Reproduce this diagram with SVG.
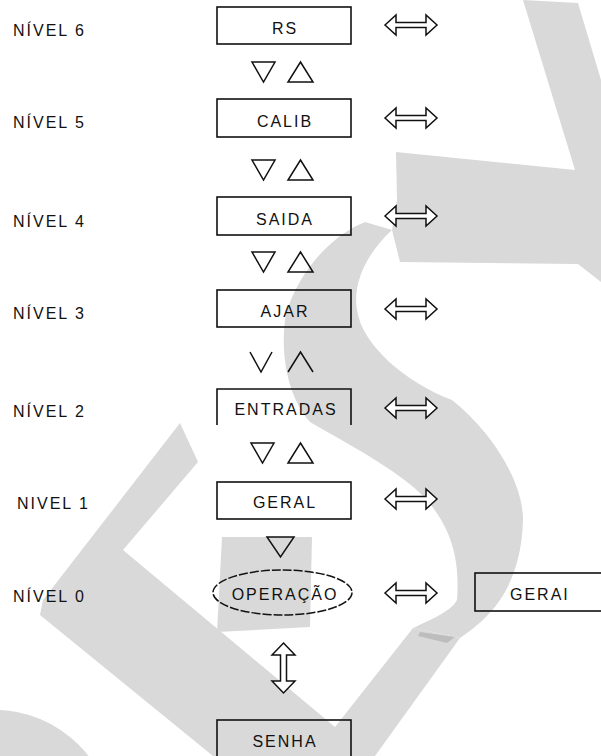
<svg xmlns="http://www.w3.org/2000/svg" width="601" height="756" viewBox="0 0 601 756">
<style>
.wm{fill:#d9d9d9;stroke:none}
.box{fill:none;stroke:#111;stroke-width:1.6}
.t{font-family:"Liberation Sans",Arial,sans-serif;font-size:16px;letter-spacing:2px;fill:#111}
.c{text-anchor:middle}
.tri{fill:none;stroke:#111;stroke-width:1.5;stroke-linejoin:miter}
.dar{fill:#fff;stroke:#111;stroke-width:1.5;stroke-linejoin:miter}
</style>
<defs>
<path id="harr" d="M-26,0 L-15,-10 L-15,-2.5 L15,-2.5 L15,-10 L26,0 L15,10 L15,2.5 L-15,2.5 L-15,10 Z"/>
<path id="down" d="M-11.5,-10 L11.5,-10 L0,10 Z"/>
<path id="up" d="M-12.5,10 L12.5,10 L0,-10 Z"/>
</defs>
<rect width="601" height="756" fill="#fff"/>
<g id="watermark">
<path class="wm" d="M523,0 L578,3 L601,80 L601,282 L578,264 L400,262 L392,230 L397,200 L396,152 L575,170 Z"/>
<path class="wm" d="M392,230 C370,250 352,280 357,310 C362,345 405,382 452,400 C490,430 523,480 523,520 C522,560 510,585 500,600 C490,615 475,628 460,638 L413,628 C435,618 452,610 457,600 C460,560 452,530 427,500 C400,470 340,440 310,422 C290,400 280,360 285,320 C290,290 320,240 365,222 Z"/>
<path class="wm" d="M180,423 L198,462 L123,550 L335,727 L413,628 L460,638 L375,756 L213,756 L40,615 L43,600 Z"/>
<path class="wm" d="M222,537 L312,537 L310,627 L217,632 Z"/>
<circle class="wm" cx="-5" cy="828" r="118"/>
<path d="M420,632 L455,637 L447,643 L418,636 Z" fill="#bdbdbd"/>
</g>
<g id="labels">
<text class="t" x="13" y="36">NÍVEL 6</text>
<text class="t" x="13" y="128">NÍVEL 5</text>
<text class="t" x="13" y="227">NÍVEL 4</text>
<text class="t" x="13" y="319">NÍVEL 3</text>
<text class="t" x="13" y="417">NÍVEL 2</text>
<text class="t" x="17" y="509">NIVEL 1</text>
<text class="t" x="13" y="602">NÍVEL 0</text>
</g>
<g id="node-rs"><rect class="box" x="217" y="7" width="134" height="37"/><text class="t c" x="285" y="34">RS</text></g>
<g id="node-calib"><rect class="box" x="217" y="99" width="134" height="38"/><text class="t c" x="285" y="127">CALIB</text></g>
<g id="node-saida"><rect class="box" x="217" y="197" width="134" height="38"/><text class="t c" x="285" y="225">SAIDA</text></g>
<g id="node-ajar"><rect class="box" x="217" y="290" width="134" height="37"/><text class="t c" x="285" y="317">AJAR</text></g>
<g id="node-entradas"><path class="box" d="M217,425 L217,389 L351,389 L351,425"/><text class="t c" x="286" y="415">ENTRADAS</text></g>
<g id="node-geral"><rect class="box" x="217" y="482" width="134" height="37"/><text class="t c" x="285" y="508">GERAL</text></g>
<g id="node-operacao"><ellipse cx="282.5" cy="592.5" rx="69.5" ry="22.5" fill="none" stroke="#111" stroke-width="1.5" stroke-dasharray="9 2"/><text class="t c" x="285" y="600">OPERAÇÃO</text></g>
<g id="node-gerai"><rect class="box" x="475" y="573" width="140" height="38"/><text class="t" x="510" y="600">GERAI</text></g>
<g id="node-senha"><rect class="box" x="217" y="720" width="134" height="45"/><text class="t c" x="285" y="747">SENHA</text></g>
<g id="connectors">
<use href="#down" class="tri" x="263.5" y="72"/><use href="#up" class="tri" x="300.5" y="72"/>
<use href="#down" class="tri" x="263.5" y="170"/><use href="#up" class="tri" x="300.5" y="170"/>
<use href="#down" class="tri" x="263.5" y="262"/><use href="#up" class="tri" x="300.5" y="262"/>
<polyline class="tri" points="250,352 261,372 272,352"/><polyline class="tri" points="288,372 300.5,352 313,372"/>
<use href="#down" class="tri" x="262.5" y="453"/><use href="#up" class="tri" x="300.5" y="453"/>
<path class="tri" d="M267,537 L294,537 L280.5,557 Z"/>
<use href="#harr" class="dar" x="411" y="25"/>
<use href="#harr" class="dar" x="411" y="118"/>
<use href="#harr" class="dar" x="411" y="216"/>
<use href="#harr" class="dar" x="411" y="309"/>
<use href="#harr" class="dar" x="411" y="408"/>
<use href="#harr" class="dar" x="411" y="499"/>
<use href="#harr" class="dar" x="411" y="593"/>
<path class="dar" d="M283.5,643 L295,655 L286.5,655 L286.5,681 L295,681 L283.5,693 L272,681 L280.5,681 L280.5,655 L272,655 Z"/>
</g>
</svg>
